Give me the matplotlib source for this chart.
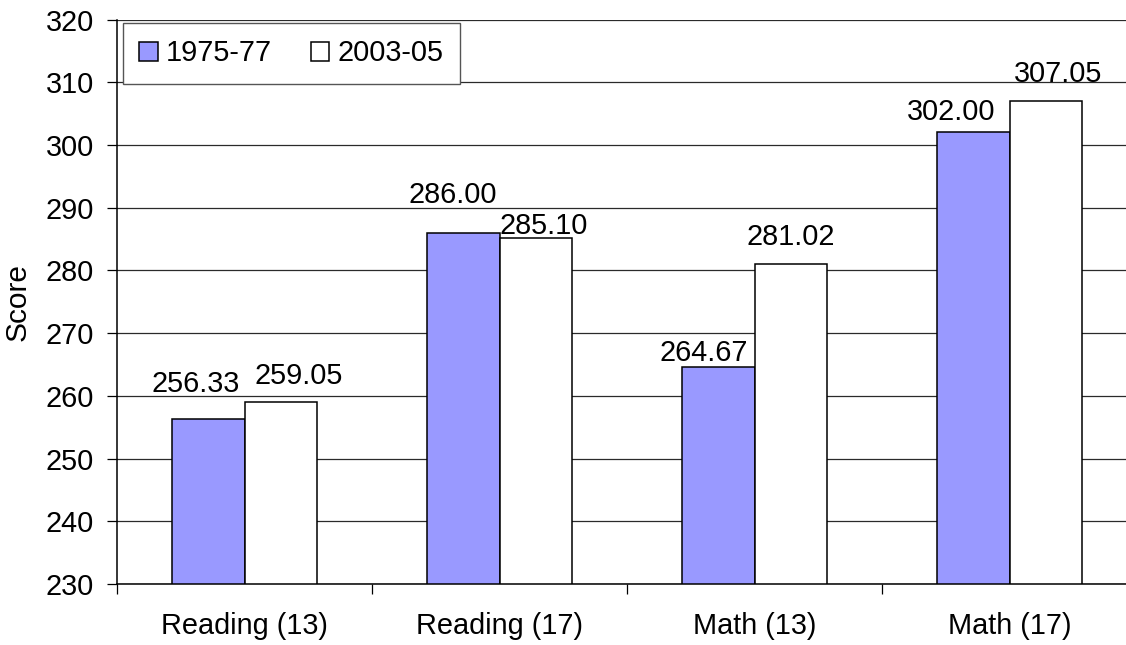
import matplotlib
matplotlib.use("Agg")
import matplotlib.pyplot as plt
from matplotlib.ticker import FixedLocator, NullFormatter
import numpy as np

plt.rcParams['font.family'] = ['Liberation Sans', 'DejaVu Sans']

# Data
categories = ["Reading (13)", "Reading (17)", "Math (13)", "Math (17)"]
series_names = ["1975-77", "2003-05"]
scores_1975 = [256.33, 286.00, 264.67, 302.00]
scores_2003 = [259.05, 285.10, 281.02, 307.05]
y_ticks = [230, 240, 250, 260, 270, 280, 290, 300, 310, 320]

# Label nudges (pixels: right, above bar top) to keep value labels apart
nudge_1975 = [(-12, 27), (-10.5, 29.4), (-14, 6), (-21.7, 12.3)]
nudge_2003 = [(18, 17.6), (7.3, 4.7), (0, 19), (12, 19)]

W, H, DPI = 1126, 645, 100
fig = plt.figure(figsize=(W / DPI, H / DPI), dpi=DPI)
left, right, top, bottom = 117, 1137, 19.5, 584
ax = fig.add_axes([left / W, 1 - bottom / H, (right - left) / W, (bottom - top) / H])

x = np.arange(len(categories))
bw = 0.286
fs = 20.8
px = 72 / DPI  # pixels -> points

b1 = ax.bar(x - bw / 2, np.array(scores_1975) - 230, bw, bottom=230,
            color="#9999FF", edgecolor="black", linewidth=1.1, zorder=3,
            label=series_names[0])
b2 = ax.bar(x + bw / 2, np.array(scores_2003) - 230, bw, bottom=230,
            color="white", edgecolor="black", linewidth=1.1, zorder=3,
            label=series_names[1])

for xs, vals, nud in ((x - bw / 2, scores_1975, nudge_1975),
                      (x + bw / 2, scores_2003, nudge_2003)):
    for xi, v, (dx, dy) in zip(xs, vals, nud):
        ax.annotate(f"{v:.2f}", xy=(xi, v), xytext=(dx * px, dy * px),
                    textcoords="offset points", ha="center", va="baseline",
                    fontsize=fs, zorder=4)

ax.set_xlim(-0.5, 3.5)
ax.set_ylim(230, 320)
ax.set_yticks(y_ticks)
ax.yaxis.grid(True, color="#2a2a2a", linewidth=0.9, zorder=0)
ax.set_axisbelow(True)

ax.set_xticks(x)
ax.set_xticklabels(categories, fontsize=fs)
ax.xaxis.set_minor_locator(FixedLocator([-0.5, 0.5, 1.5, 2.5, 3.5]))
ax.xaxis.set_minor_formatter(NullFormatter())
ax.tick_params(axis="x", which="major", length=0, pad=20)
ax.tick_params(axis="x", which="minor", length=7, width=0.9, direction="out")
ax.tick_params(axis="y", length=7.2, width=0.9, direction="out", pad=9.2, labelsize=fs)

ax.set_ylabel("Score", fontsize=21.5, labelpad=10)

for s in ("top", "right"):
    ax.spines[s].set_visible(False)
for s in ("left", "bottom"):
    ax.spines[s].set_linewidth(1.1)
    ax.spines[s].set_color("black")

leg = fig.legend(handles=[b1, b2], labels=series_names, loc="upper left",
                 bbox_to_anchor=(123 / W, 1 - 23 / H), ncol=2, fontsize=fs,
                 frameon=True, fancybox=False, framealpha=1, edgecolor="#555555",
                 handlelength=0.63, handleheight=0.63, handletextpad=0.28,
                 columnspacing=1.35, borderpad=0.57, borderaxespad=0)
leg.get_frame().set_linewidth(1.0)

fig.savefig("out.png", dpi=DPI)
